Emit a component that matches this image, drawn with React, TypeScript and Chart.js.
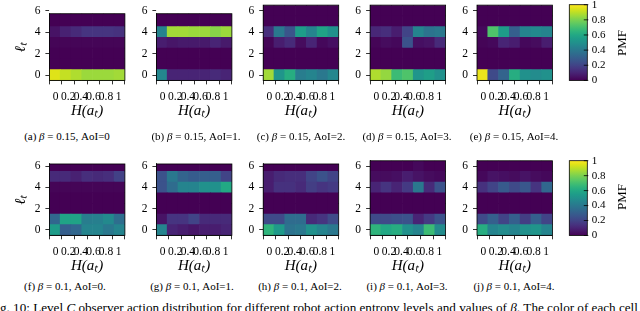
import React, { useEffect, useRef } from "react";
import { Chart, registerables } from "chart.js";

Chart.register(...registerables);

// ---------------- data ----------------
// entropy bins of H(a_t) on [0,1]
const entropyBins = ["b0", "b1", "b2", "b3", "b4", "b5", "b6"];
// observer levels l_t
const levels = [0, 1, 2, 3, 4, 5, 6];
const xTickValues = [0, 0.2, 0.4, 0.6, 0.8, 1];
const yTickValues = [0, 2, 4, 6];
const pmfTickValues = [0, 0.2, 0.4, 0.6, 0.8, 1];

// PMF matrices: rows = level 0..6, columns = entropy bins
const pmfB15Aoi0 = [
  [0.95, 0.91, 0.88, 0.85, 0.85, 0.85, 0.86],
  [0, 0, 0, 0, 0, 0, 0],
  [0, 0, 0, 0, 0, 0, 0],
  [0.01, 0.01, 0.01, 0.01, 0.01, 0.01, 0.01],
  [0.05, 0.09, 0.12, 0.15, 0.15, 0.15, 0.14],
  [0, 0, 0, 0, 0, 0, 0],
  [0, 0, 0, 0, 0, 0, 0],
];
const pmfB15Aoi1 = [
  [0.46, 0.1, 0.1, 0.1, 0.1, 0.12, 0.1],
  [0, 0, 0, 0, 0, 0, 0],
  [0, 0, 0, 0, 0, 0, 0],
  [0.08, 0.06, 0.07, 0.07, 0.07, 0.1, 0.07],
  [0.45, 0.86, 0.86, 0.85, 0.85, 0.82, 0.85],
  [0, 0, 0, 0, 0, 0, 0],
  [0, 0, 0, 0, 0, 0, 0],
];
const pmfB15Aoi2 = [
  [0.86, 0.52, 0.62, 0.42, 0.45, 0.4, 0.46],
  [0, 0, 0, 0, 0, 0, 0],
  [0, 0, 0, 0, 0, 0, 0],
  [0.01, 0.08, 0.12, 0.03, 0.1, 0.02, 0.04],
  [0.13, 0.4, 0.26, 0.55, 0.45, 0.58, 0.5],
  [0, 0, 0, 0, 0, 0, 0],
  [0, 0, 0, 0, 0, 0, 0],
];
const pmfB15Aoi3 = [
  [0.88, 0.84, 0.68, 0.72, 0.52, 0.56, 0.5],
  [0, 0, 0, 0, 0, 0, 0],
  [0, 0, 0, 0, 0, 0, 0],
  [0.01, 0.03, 0.02, 0.25, 0.04, 0.05, 0.12],
  [0.11, 0.13, 0.08, 0.2, 0.45, 0.38, 0.4],
  [0, 0, 0, 0, 0, 0, 0],
  [0, 0, 0, 0, 0, 0, 0],
];
const pmfB15Aoi4 = [
  [0.97, 0.22, 0.32, 0.62, 0.5, 0.48, 0.5],
  [0, 0, 0, 0, 0, 0, 0],
  [0, 0, 0, 0, 0, 0, 0],
  [0.01, 0.02, 0.1, 0.08, 0.02, 0.03, 0.08],
  [0.02, 0.72, 0.55, 0.3, 0.45, 0.47, 0.45],
  [0, 0, 0, 0, 0, 0, 0],
  [0, 0, 0, 0, 0, 0, 0],
];
const pmfB10Aoi0 = [
  [0.55, 0.3, 0.33, 0.45, 0.45, 0.4, 0.45],
  [0.33, 0.58, 0.58, 0.42, 0.43, 0.47, 0.36],
  [0, 0, 0, 0, 0, 0, 0],
  [0, 0, 0, 0, 0, 0, 0],
  [0.01, 0.01, 0.01, 0.01, 0.01, 0.01, 0.01],
  [0.12, 0.12, 0.09, 0.13, 0.12, 0.13, 0.19],
  [0, 0, 0, 0, 0, 0, 0],
];
const pmfB10Aoi1 = [
  [0.45, 0.1, 0.08, 0.06, 0.08, 0.08, 0.1],
  [0.05, 0.15, 0.15, 0.2, 0.12, 0.12, 0.12],
  [0, 0, 0, 0, 0, 0, 0],
  [0, 0, 0, 0, 0, 0, 0],
  [0.25, 0.35, 0.45, 0.45, 0.5, 0.5, 0.6],
  [0.25, 0.4, 0.32, 0.29, 0.3, 0.3, 0.2],
  [0, 0, 0, 0, 0, 0, 0],
];
const pmfB10Aoi2 = [
  [0.65, 0.54, 0.38, 0.4, 0.5, 0.45, 0.4],
  [0.22, 0.22, 0.35, 0.35, 0.12, 0.15, 0.22],
  [0, 0, 0, 0, 0, 0, 0],
  [0, 0, 0, 0, 0, 0, 0],
  [0.08, 0.14, 0.14, 0.12, 0.18, 0.15, 0.17],
  [0.08, 0.12, 0.13, 0.13, 0.2, 0.25, 0.2],
  [0, 0, 0, 0, 0, 0, 0],
];
const pmfB10Aoi3 = [
  [0.65, 0.6, 0.62, 0.5, 0.45, 0.68, 0.48],
  [0.22, 0.22, 0.24, 0.25, 0.1, 0.17, 0.25],
  [0, 0, 0, 0, 0, 0, 0],
  [0, 0, 0, 0, 0, 0, 0],
  [0.1, 0.15, 0.1, 0.17, 0.4, 0.12, 0.25],
  [0.03, 0.03, 0.04, 0.08, 0.05, 0.03, 0.02],
  [0, 0, 0, 0, 0.02, 0, 0],
];
const pmfB10Aoi4 = [
  [0.62, 0.45, 0.48, 0.45, 0.5, 0.52, 0.45],
  [0.22, 0.3, 0.2, 0.3, 0.18, 0.3, 0.2],
  [0, 0, 0, 0, 0, 0, 0],
  [0, 0, 0, 0, 0, 0, 0],
  [0.14, 0.2, 0.28, 0.22, 0.27, 0.15, 0.33],
  [0.02, 0.05, 0.04, 0.03, 0.05, 0.03, 0.02],
  [0, 0, 0, 0, 0, 0, 0],
];

const captionsTop = ["(a) ", "(b) ", "(c) ", "(d) ", "(e) "];
const captionsTopTail = [", AoI=0", ", AoI=1.", ", AoI=2.", ", AoI=3.", ", AoI=4."];
const captionsBottom = ["(f) ", "(g) ", "(h) ", "(i) ", "(j) "];
const captionsBottomTail = [", AoI=0.", ", AoI=1.", ", AoI=2.", ", AoI=3.", ", AoI=4."];
const betaTop = "0.15";
const betaBottom = "0.1";

// ---------------- style / layout ----------------
const SERIF = "'Liberation Serif', 'Times New Roman', serif";
const VIRIDIS = [
  "#440154", "#471365", "#482475", "#463480", "#414487", "#3b528b", "#355f8d",
  "#2f6c8e", "#2a788e", "#25848e", "#21918c", "#1e9c89", "#22a884", "#2fb47c",
  "#44bf70", "#5ec962", "#7ad151", "#9bd93c", "#bddf26", "#dfe318", "#fde725",
];
function hexRgb(h: string) {
  return [parseInt(h.slice(1, 3), 16), parseInt(h.slice(3, 5), 16), parseInt(h.slice(5, 7), 16)];
}
function viridis(t: number) {
  const c = Math.max(0, Math.min(1, t)) * 20;
  const i = Math.min(19, Math.floor(c));
  const f = c - i;
  const a = hexRgb(VIRIDIS[i]);
  const b = hexRgb(VIRIDIS[i + 1]);
  const m = a.map((v, k) => Math.round(v + (b[k] - v) * f));
  return `rgb(${m[0]},${m[1]},${m[2]})`;
}

const ROW_TOP = { zero: 75, unit: 10.75 };
const ROW_BOTTOM = { zero: 230, unit: 10.65 };
const PLOT_LEFTS = [49.4, 156.4, 263.2, 370.1, 477];
const PLOT_W = 75.5;
const CAP_X_TOP = [67, 196, 301, 407, 514];
const CAP_X_BOTTOM = [65, 192, 300, 407, 514];
const TICK_SIZE = 11.5;

const framePlugin = {
  id: "frame",
  afterDatasetsDraw(chart: any) {
    const { ctx, chartArea } = chart;
    ctx.save();
    ctx.strokeStyle = "#000";
    ctx.lineWidth = 0.8;
    ctx.strokeRect(chartArea.left, chartArea.top, chartArea.right - chartArea.left, chartArea.bottom - chartArea.top);
    ctx.restore();
  },
};

type Row = { zero: number; unit: number };

function Heatmap({ pmf, yMax, plotLeft, row, yTitle }: { pmf: number[][]; yMax: number; plotLeft: number; row: Row; yTitle: boolean }) {
  const ref = useRef<HTMLCanvasElement>(null);
  const plotTop = row.zero - yMax * row.unit;
  const plotBottom = row.zero + 0.5 * row.unit;
  const plotH = plotBottom - plotTop;
  const cl = Math.floor(plotLeft - 48);
  const ct = Math.floor(plotTop - 12);
  const yAxisW = plotLeft - cl;
  const padTop = plotTop - ct;
  const W = Math.ceil(yAxisW + PLOT_W + 9);
  const H = Math.ceil(padTop + plotH + 42);
  const padRight = W - yAxisW - PLOT_W;
  const xAxisH = H - padTop - plotH;

  useEffect(() => {
    const tickFont = { family: SERIF, size: TICK_SIZE, lineHeight: 1 };
    const chart = new Chart(ref.current as HTMLCanvasElement, {
      type: "bar",
      data: {
        labels: entropyBins,
        datasets: levels.map((lv, r) => ({
          label: "l=" + lv,
          data: pmf[r].map(() => [lv - 0.5, lv + 0.5]),
          backgroundColor: pmf[r].map((v) => viridis(v)),
          borderWidth: 0,
          barPercentage: 1,
          categoryPercentage: 1,
          grouped: false,
          clip: 0,
          xAxisID: "xc",
          yAxisID: "y",
        })) as any,
      },
      options: {
        responsive: false,
        animation: false,
        events: [],
        layout: { padding: { left: 0, top: padTop, right: padRight, bottom: 0 } },
        plugins: { legend: { display: false }, tooltip: { enabled: false } },
        scales: {
          xc: { type: "category", axis: "x", display: false, offset: true },
          x: {
            type: "linear",
            axis: "x",
            position: "bottom",
            min: 0,
            max: 1,
            afterBuildTicks: (s: any) => {
              s.ticks = xTickValues.map((v) => ({ value: v }));
            },
            afterFit: (s: any) => {
              s.height = xAxisH;
              s.paddingLeft = 0;
              s.paddingRight = 0;
            },
            ticks: { autoSkip: false, maxRotation: 0, minRotation: 0, padding: 7, color: "#000", font: tickFont, callback: (v: any) => String(v) },
            grid: { display: true, drawOnChartArea: false, drawTicks: true, tickLength: 4, color: "#000", lineWidth: 0.8 },
            border: { display: true, color: "#000", width: 0.8 },
            title: {
              display: true,
              text: "H(aₜ)",
              color: "#000",
              font: { family: SERIF, size: 15, style: "italic", lineHeight: 1 },
              padding: { top: 0, bottom: xAxisH - 31 - 7.5 },
            },
          },
          y: {
            type: "linear",
            position: "left",
            min: -0.5,
            max: yMax,
            afterBuildTicks: (s: any) => {
              s.ticks = yTickValues.map((v) => ({ value: v }));
            },
            afterFit: (s: any) => {
              s.width = yAxisW;
              s.paddingTop = 0;
              s.paddingBottom = 0;
            },
            ticks: { padding: 5, color: "#000", font: tickFont },
            grid: { display: true, drawOnChartArea: false, drawTicks: true, tickLength: 4, color: "#000", lineWidth: 0.8 },
            border: { display: true, color: "#000", width: 0.8 },
            title: {
              display: yTitle,
              text: "ℓₜ",
              color: "#000",
              font: { family: SERIF, size: 15, style: "italic", lineHeight: 1 },
              padding: { top: 21.5 - cl - 7.5, bottom: 0 },
            },
          },
        },
      } as any,
      plugins: [framePlugin],
    });
    return () => chart.destroy();
  }, []);

  return <canvas ref={ref} width={W} height={H} style={{ position: "absolute", left: cl, top: ct, width: W, height: H }} />;
}

function ColorBar({ top, bottom }: { top: number; bottom: number }) {
  const ref = useRef<HTMLCanvasElement>(null);
  const barLeft = 569.3;
  const barW = 18;
  const cl = 560;
  const ct = Math.max(0, Math.floor(top - 8));
  const padLeft = barLeft - cl;
  const padTop = top - ct;
  const axisW = 40;
  const W = Math.ceil(padLeft + barW + axisW);
  const H = Math.ceil(bottom - ct + 8);
  const padBottom = H - (bottom - ct);
  const axisWExact = W - padLeft - barW;

  useEffect(() => {
    const tickMarks = {
      id: "cbticks",
      afterDatasetsDraw(chart: any) {
        const { ctx, chartArea } = chart;
        const ys = chart.scales.y;
        ctx.save();
        ctx.strokeStyle = "#000";
        ctx.lineWidth = 0.8;
        ys.ticks.forEach((t: any) => {
          const p = ys.getPixelForValue(t.value);
          ctx.beginPath();
          ctx.moveTo(chartArea.right - 3.5, p);
          ctx.lineTo(chartArea.right + 1, p);
          ctx.stroke();
        });
        ctx.strokeRect(chartArea.left, chartArea.top, chartArea.right - chartArea.left, chartArea.bottom - chartArea.top);
        ctx.restore();
      },
    };
    const chart = new Chart(ref.current as HTMLCanvasElement, {
      type: "bar",
      data: {
        labels: ["PMF"],
        datasets: [
          {
            label: "PMF",
            data: [[pmfTickValues[0], pmfTickValues[pmfTickValues.length - 1]]],
            backgroundColor: (c: any) => {
              const area = c.chart.chartArea;
              if (!area) return viridis(0.5);
              const g = c.chart.ctx.createLinearGradient(0, area.bottom, 0, area.top);
              for (let i = 0; i <= 20; i++) g.addColorStop(i / 20, viridis(i / 20));
              return g;
            },
            borderWidth: 0,
            barPercentage: 1,
            categoryPercentage: 1,
            clip: 0,
          },
        ] as any,
      },
      options: {
        responsive: false,
        animation: false,
        events: [],
        layout: { padding: { left: padLeft, top: padTop, right: 0, bottom: padBottom } },
        plugins: { legend: { display: false }, tooltip: { enabled: false } },
        scales: {
          x: { type: "category", display: false, offset: true },
          y: {
            type: "linear",
            position: "right",
            min: 0,
            max: 1,
            afterBuildTicks: (s: any) => {
              s.ticks = pmfTickValues.map((v) => ({ value: v }));
            },
            afterFit: (s: any) => {
              s.width = axisWExact;
              s.paddingTop = 0;
              s.paddingBottom = 0;
            },
            ticks: { padding: 4.5, color: "#000", font: { family: SERIF, size: 11, lineHeight: 1 }, callback: (v: any) => String(v) },
            grid: { display: false, drawTicks: false },
            border: { display: false },
          },
        },
      } as any,
      plugins: [tickMarks],
    });
    return () => chart.destroy();
  }, []);

  return <canvas ref={ref} width={W} height={H} style={{ position: "absolute", left: cl, top: ct, width: W, height: H }} />;
}

function Caption({ cx, cy, head, beta, tail }: { cx: number; cy: number; head: string; beta: string; tail: string }) {
  return (
    <div
      style={{
        position: "absolute",
        left: cx - 75,
        top: cy - 7,
        width: 150,
        textAlign: "center",
        whiteSpace: "nowrap",
        fontFamily: SERIF,
        fontSize: 11,
        lineHeight: "14px",
        color: "#000",
      }}
    >
      {head}
      <i>β</i> = {beta}
      {tail}
    </div>
  );
}

function PmfLabel({ cy }: { cy: number }) {
  return (
    <div
      style={{
        position: "absolute",
        left: 622 - 20,
        top: cy - 8,
        width: 40,
        height: 16,
        lineHeight: "16px",
        textAlign: "center",
        fontFamily: SERIF,
        fontSize: 13,
        color: "#000",
        transform: "rotate(-90deg)",
      }}
    >
      PMF
    </div>
  );
}

export default function App() {
  const topPanels = [pmfB15Aoi0, pmfB15Aoi1, pmfB15Aoi2, pmfB15Aoi3, pmfB15Aoi4];
  const topMax = [5.7, 5.7, 6.5, 6.5, 6.5];
  const bottomPanels = [pmfB10Aoi0, pmfB10Aoi1, pmfB10Aoi2, pmfB10Aoi3, pmfB10Aoi4];
  const bottomMax = [6.2, 6.2, 6.2, 6.5, 6.5];
  return (
    <div style={{ position: "absolute", left: 0, top: 0, width: 640, height: 311, overflow: "hidden", background: "#fff" }}>
      {topPanels.map((p, i) => (
        <Heatmap key={"t" + i} pmf={p} yMax={topMax[i]} plotLeft={PLOT_LEFTS[i]} row={ROW_TOP} yTitle={i === 0} />
      ))}
      {bottomPanels.map((p, i) => (
        <Heatmap key={"b" + i} pmf={p} yMax={bottomMax[i]} plotLeft={PLOT_LEFTS[i]} row={ROW_BOTTOM} yTitle={i === 0} />
      ))}
      <ColorBar top={4.7} bottom={80.4} />
      <ColorBar top={160.7} bottom={235.5} />
      <PmfLabel cy={43} />
      <PmfLabel cy={197} />
      {captionsTop.map((h, i) => (
        <Caption key={"ct" + i} cx={CAP_X_TOP[i]} cy={136} head={h} beta={betaTop} tail={captionsTopTail[i]} />
      ))}
      {captionsBottom.map((h, i) => (
        <Caption key={"cb" + i} cx={CAP_X_BOTTOM[i]} cy={286} head={h} beta={betaBottom} tail={captionsBottomTail[i]} />
      ))}
      <div
        style={{
          position: "absolute",
          left: -11,
          top: 300,
          whiteSpace: "nowrap",
          fontFamily: SERIF,
          fontSize: 13.15,
          lineHeight: "16px",
          color: "#000",
        }}
      >
        Fig. 10: Level <i>C</i> observer action distribution for different robot action entropy levels and values of <i>β</i>. The color of each cell
      </div>
    </div>
  );
}
